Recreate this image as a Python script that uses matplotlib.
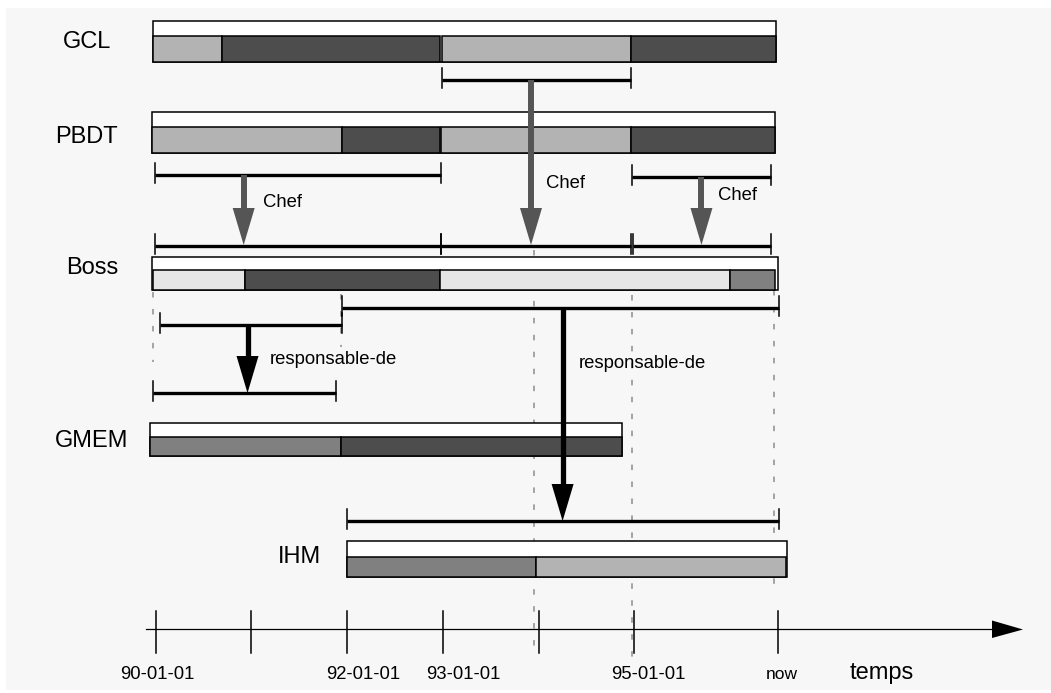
import matplotlib.pyplot as plt
from matplotlib.patches import Rectangle, Polygon

plt.rcParams['font.family'] = ['Liberation Sans', 'DejaVu Sans']

# time in years, 90.0 = 90-01-01
tick_dates = [90, 91, 92, 93, 94, 95, 96.5]
tick_labels = ['90-01-01', '', '92-01-01', '93-01-01', '', '95-01-01', 'now']

resources = ['GCL', 'PBDT', 'Boss', 'GMEM', 'IHM']
life_start = [89.97, 89.96, 89.96, 89.94, 92.00]
life_end = [96.48, 96.47, 96.50, 94.87, 96.59]

# state segments of each resource
seg_start = {
    'GCL': [89.97, 90.69, 92.99, 94.96],
    'PBDT': [89.96, 91.95, 92.98, 94.96],
    'Boss': [89.97, 90.93, 92.97, 96.00],
    'GMEM': [89.94, 91.94],
    'IHM': [92.00, 93.97],
}
seg_end = {
    'GCL': [90.69, 92.97, 94.96, 96.48],
    'PBDT': [91.95, 92.97, 94.96, 96.47],
    'Boss': [90.93, 92.97, 96.00, 96.47],
    'GMEM': [91.94, 94.87],
    'IHM': [93.97, 96.58],
}
seg_state = {
    'GCL': ['B', 'A', 'B', 'A'],
    'PBDT': ['B', 'A', 'B', 'A'],
    'Boss': ['C', 'A', 'C', 'D'],
    'GMEM': ['D', 'A'],
    'IHM': ['D', 'B'],
}

# role intervals
int_start = [92.99, 89.99, 94.97, 89.99, 92.98, 94.99, 90.05, 91.95, 89.97, 92.00]
int_end = [94.96, 92.98, 96.43, 92.98, 94.96, 96.43, 91.95, 96.51, 91.88, 96.51]

# relations between intervals
rel_names = ['Chef', 'Chef', 'Chef', 'responsable-de', 'responsable-de']
rel_time = [90.92, 93.92, 95.70, 90.96, 94.25]

# guide lines at event dates
guide_time = [89.97, 91.94, 93.95, 94.97, 96.46]

# ---- layout (pixels of the original drawing) ----
PX = 95.77          # pixels per year
X0 = 92.5 - 395 / PX


def px2t(px):
    return X0 + px / PX


rows = {'GCL': (21, 36, 62), 'PBDT': (112, 127, 153), 'Boss': (257, 270, 290),
        'GMEM': (423, 437, 456), 'IHM': (541, 557, 577)}
label_pos = {'GCL': (87.5, 48), 'PBDT': (86.5, 143), 'Boss': (92.5, 274),
             'GMEM': (91.5, 447), 'IHM': (300, 563)}
state_colors = {'A': '#4d4d4d', 'B': '#b3b3b3', 'C': '#e6e6e6', 'D': '#808080'}
int_y = [80, 175, 177, 246, 246, 246, 325, 308, 393, 521]
rel_y = [(175, 245), (80, 245), (177, 245), (325, 393), (308, 521)]
rel_color = ['#555555', '#555555', '#555555', 'black', 'black']
rel_lw = [4.3, 4.3, 4.3, 3.8, 3.8]
rel_label = [(19, 207), (15, 188), (17, 200), (22, 364), (16, 368)]
guide_y = [(292, 362), (294, 347), (250, 655), (295, 665), (290, 590)]
label_dx = [2, 0, 16, 20, 0, 14, 4]

fig = plt.figure(figsize=(10.51, 6.93), dpi=100)
ax = fig.add_axes([0, 0, 1, 1])
ax.set_xlim(X0, X0 + 1051 / PX)
ax.set_ylim(693, 0)
ax.axis('off')
ax.add_patch(Rectangle((6 / 1051, 3 / 693), 1045 / 1051, 682 / 693,
                       transform=ax.transAxes, facecolor='#f7f7f7',
                       edgecolor='none', zorder=0))

# dashed guides
for t, (y0, y1) in zip(guide_time, guide_y):
    ax.plot([t, t], [y0, y1], color='#8c8c8c', lw=1.1,
            linestyle=(0, (3.6, 7.5)), zorder=1)

# resource boxes
for i, name in enumerate(resources):
    top, mid, bot = rows[name]
    ax.add_patch(Rectangle((life_start[i], top), life_end[i] - life_start[i], bot - top,
                           facecolor='white', edgecolor='black', lw=1.1, zorder=2))
    for s, e, st in zip(seg_start[name], seg_end[name], seg_state[name]):
        ax.add_patch(Rectangle((s, mid), e - s, bot - mid, facecolor=state_colors[st],
                               edgecolor='black', lw=1.1, zorder=2))
    lx, ly = label_pos[name]
    ax.text(lx / 1051, ly, name, transform=ax.get_yaxis_transform(),
            ha='center', va='baseline', fontsize=17)

# role intervals
for s, e, y in zip(int_start, int_end, int_y):
    ax.plot([s, e], [y, y], color='black', lw=2.4, solid_capstyle='butt', zorder=3)
    for t in (s, e):
        ax.plot([t, t], [y - 12, y + 8], color='black', lw=1.1, zorder=3)

# relation arrows
head_len, head_hw = 37, 11 / PX
for name, t, (y0, y1), c, lw, (dx, by) in zip(rel_names, rel_time, rel_y,
                                               rel_color, rel_lw, rel_label):
    ax.plot([t, t], [y0, y1 - head_len + 2], color=c, lw=lw,
            solid_capstyle='butt', zorder=4)
    ax.add_patch(Polygon([(t - head_hw, y1 - head_len), (t + head_hw, y1 - head_len),
                          (t, y1)], closed=True, facecolor=c, edgecolor='none', zorder=4))
    ax.text(t + dx / PX, by, name, ha='left', va='baseline', fontsize=13.3, zorder=5)

# time axis
ax.plot([px2t(146), px2t(993)], [629, 629], color='black', lw=0.9, zorder=3)
ax.add_patch(Polygon([(px2t(992), 620.5), (px2t(1023), 629.5), (px2t(992), 638)],
                     closed=True, facecolor='black', edgecolor='none', zorder=3))
for t, lab, dx in zip(tick_dates, tick_labels, label_dx):
    ax.plot([t, t], [611, 653], color='black', lw=1.1, zorder=3)
    if lab:
        fs = 12.5 if lab == 'now' else 13.3
        ax.text(t + dx / PX, 679, lab, ha='center', va='baseline', fontsize=fs)
ax.text(px2t(882), 679, 'temps', ha='center', va='baseline', fontsize=17)

fig.savefig('out.png', dpi=100)
